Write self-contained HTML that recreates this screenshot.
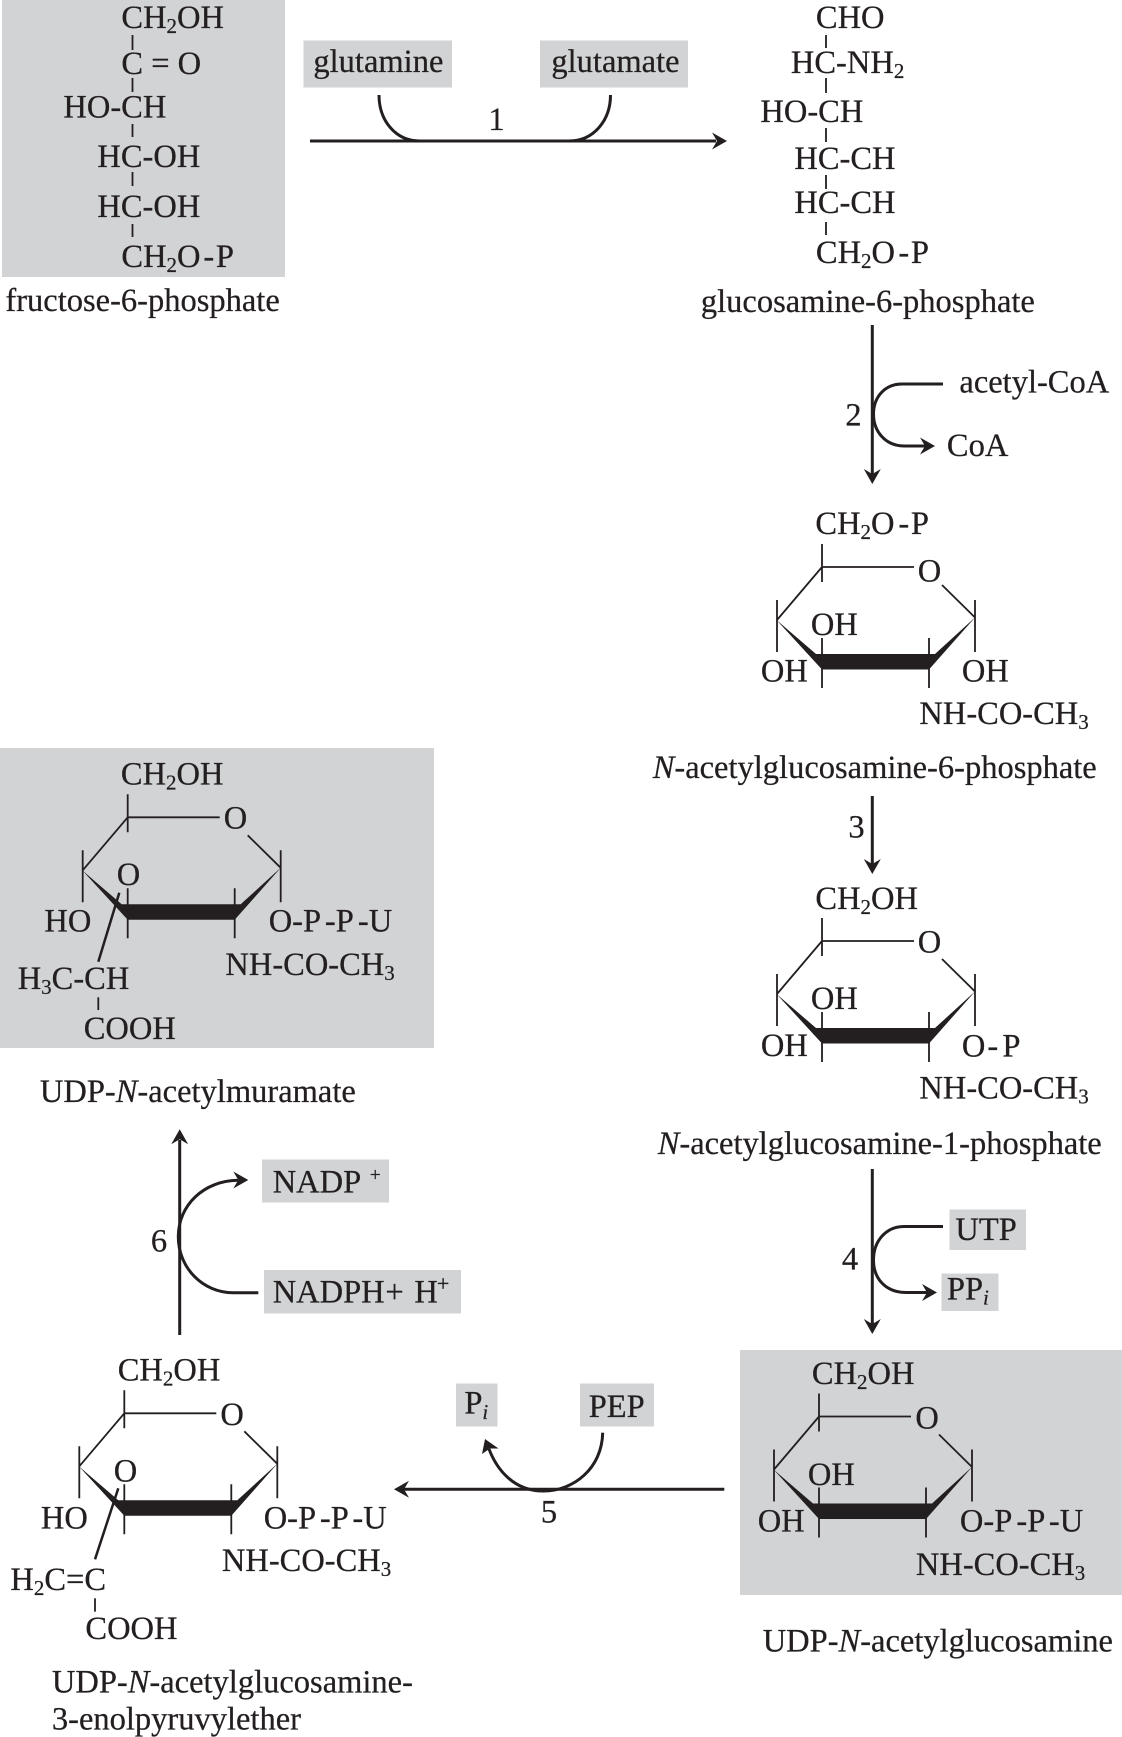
<!DOCTYPE html>
<html><head><meta charset="utf-8">
<style>
html,body{margin:0;padding:0;background:#fff}
svg{display:block}
text{font-family:"Liberation Serif",serif;font-size:32.5px;fill:#231f20;stroke:#231f20;stroke-width:.25;white-space:pre;transform:translateX(-0.6px)}
.s{font-size:21px}
.i{font-style:italic}
.b{fill:#d1d3d4}
.t{stroke:#231f20;stroke-width:1.8;fill:none}
.m{stroke:#231f20;stroke-width:3;fill:none}
.h{fill:#231f20}
</style></head>
<body>
<svg width="1122" height="1737" viewBox="0 0 1122 1737" xmlns="http://www.w3.org/2000/svg">
<defs>
<g id="ring">
<path class="t" d="M0 -23V15M0 0H92M0 0L-45 53M-45 33V85M120 18L153 50.5M153 33V85M0 71V121M107 71V121"/>
<path class="h" d="M-45.500 53L-6 87H113L153.500 50L107 102.500H0Z"/>
</g>
<path id="ah" class="h" d="M0 0L-15 -8.500L-10 0L-15 8.500Z"/>
</defs>
<rect width="1122" height="1737" fill="#fff"/>

<!-- gray boxes -->
<rect class="b" x="2" y="0" width="283" height="277"/>
<rect class="b" x="303.5" y="40.5" width="148.5" height="47"/>
<rect class="b" x="540" y="40.5" width="148" height="47"/>
<rect class="b" x="0" y="748" width="434" height="300"/>
<rect class="b" x="740" y="1350" width="382" height="245"/>
<rect class="b" x="949.5" y="1209.5" width="76.5" height="40.5"/>
<rect class="b" x="941.5" y="1273.5" width="57" height="37.5"/>
<rect class="b" x="456" y="1383.5" width="41.5" height="43"/>
<rect class="b" x="580" y="1383.5" width="74" height="43"/>
<rect class="b" x="262" y="1159.5" width="127" height="43"/>
<rect class="b" x="264" y="1270" width="197" height="43.5"/>

<!-- fructose-6-phosphate -->
<text x="122" y="28">CH<tspan class="s" dy="5">2</tspan><tspan dy="-5">OH</tspan></text>
<text x="122" y="74">C = O</text>
<text x="64" y="117.500">HO-CH</text>
<text x="98" y="167">HC-OH</text>
<text x="98" y="217">HC-OH</text>
<text x="122" y="267">CH<tspan class="s" dy="5">2</tspan><tspan dy="-5">O</tspan></text>
<text x="204" y="267">-</text><text x="216.500" y="267">P</text>
<path class="t" d="M132.5 35V50M132.5 78V92M132.5 124V137M132.5 172V186M132.5 224V237"/>
<text x="6" y="311">fructose-6-phosphate</text>

<!-- reaction 1 -->
<text x="314" y="72">glutamine</text>
<text x="552" y="72">glutamate</text>
<text x="489" y="130">1</text>
<path class="m" d="M310 141H716"/>
<use href="#ah" x="727" y="141"/>
<path class="m" d="M379 95C379 120 395 141 420 141H569C594 141 610.500 120 610.500 95"/>

<!-- glucosamine-6-phosphate -->
<text x="816.500" y="28">CHO</text>
<text x="791.500" y="73">HC-NH<tspan class="s" dy="5">2</tspan></text>
<text x="761" y="122">HO-CH</text>
<text x="795" y="169">HC-CH</text>
<text x="795" y="213">HC-CH</text>
<text x="816.500" y="263">CH<tspan class="s" dy="5">2</tspan><tspan dy="-5">O</tspan></text>
<text x="899" y="263">-</text><text x="911.500" y="263">P</text>
<path class="t" d="M826 35V48M826 78V93M826 128V142M826 175V189M826 222V235"/>
<text x="701.500" y="312">glucosamine-6-phosphate</text>

<!-- reaction 2 -->
<path class="m" d="M872.300 325V474"/>
<use href="#ah" transform="translate(872.300 484) rotate(90)"/>
<path class="m" d="M943 384H902C884 384 873.500 398 873.500 414C873.500 432 886 446 904 446H926"/>
<use href="#ah" x="935" y="446"/>
<text x="846" y="425.500">2</text>
<text x="960" y="392.500">acetyl-CoA</text>
<text x="947.500" y="456">CoA</text>

<!-- N-acetylglucosamine-6-phosphate -->
<use href="#ring" x="822" y="567"/>
<text x="816" y="534">CH<tspan class="s" dy="5">2</tspan><tspan dy="-5">O</tspan></text>
<text x="899" y="534">-</text><text x="911.500" y="534">P</text>
<text x="918.300" y="581.500">O</text>
<text x="811.500" y="635">OH</text>
<text x="761.500" y="681.500">OH</text>
<text x="962.500" y="681.500">OH</text>
<text x="920" y="724">NH-CO-CH<tspan class="s" dy="5">3</tspan></text>
<text x="653.300" y="778"><tspan class="i">N</tspan>-acetylglucosamine-6-phosphate</text>

<!-- reaction 3 -->
<path class="m" d="M872.300 796V864"/>
<use href="#ah" transform="translate(872.300 874) rotate(90)"/>
<text x="849" y="837.500">3</text>

<!-- N-acetylglucosamine-1-phosphate -->
<use href="#ring" x="822" y="941"/>
<text x="816" y="909">CH<tspan class="s" dy="5">2</tspan><tspan dy="-5">OH</tspan></text>
<text x="918.300" y="952.500">O</text>
<text x="811.500" y="1009">OH</text>
<text x="761.500" y="1056">OH</text>
<text x="962.500" y="1056.500">O</text>
<text x="988" y="1056.500">-</text><text x="1003" y="1056.500">P</text>
<text x="920" y="1098.500">NH-CO-CH<tspan class="s" dy="5">3</tspan></text>
<text x="658.300" y="1154"><tspan class="i">N</tspan>-acetylglucosamine-1-phosphate</text>

<!-- reaction 4 -->
<path class="m" d="M872.300 1169V1324"/>
<use href="#ah" transform="translate(872.300 1334) rotate(90)"/>
<path class="m" d="M943 1226.500H904C886 1226.500 873.500 1241 873.500 1260C873.500 1279 886 1292.500 906 1292.500H928"/>
<use href="#ah" x="937" y="1292.500"/>
<text x="842.500" y="1269.500">4</text>
<text x="956" y="1240">UTP</text>
<text x="947.500" y="1299.500">PP<tspan class="s i" dy="5">i</tspan></text>

<!-- UDP-N-acetylglucosamine -->
<use href="#ring" x="819" y="1416.500"/>
<text x="812.500" y="1384">CH<tspan class="s" dy="5">2</tspan><tspan dy="-5">OH</tspan></text>
<text x="916" y="1428.500">O</text>
<text x="808.500" y="1485">OH</text>
<text x="758.300" y="1531.500">OH</text>
<text x="960.500" y="1531.500">O-P</text><text x="1017" y="1531.500">-P</text><text x="1049.500" y="1531.500">-U</text>
<text x="916.500" y="1575">NH-CO-CH<tspan class="s" dy="5">3</tspan></text>
<text x="763.300" y="1651.500">UDP-<tspan class="i">N</tspan>-acetylglucosamine</text>

<!-- reaction 5 -->
<path class="m" d="M724.300 1489.300H404"/>
<use href="#ah" transform="translate(394 1489.300) rotate(180)"/>
<path class="m" d="M602.700 1432.700C602 1468 574 1491 543.500 1491C514 1491 497 1470 489 1449"/>
<path class="h" d="M485 1439L498.500 1448.500L490 1448.500L482 1454Z"/>
<text x="465" y="1413.500">P</text>
<text class="s i" x="483" y="1419">i</text>
<text x="589.300" y="1417">PEP</text>
<text x="541.500" y="1522.500">5</text>

<!-- UDP-N-acetylglucosamine-3-enolpyruvylether -->
<use href="#ring" x="124.300" y="1413.300"/>
<text x="118.300" y="1380.500">CH<tspan class="s" dy="5">2</tspan><tspan dy="-5">OH</tspan></text>
<text x="221" y="1425">O</text>
<text x="114.300" y="1481.500">O</text>
<text x="41.500" y="1528.300">HO</text>
<text x="264.300" y="1528.300">O-P</text><text x="320.500" y="1528.300">-P</text><text x="353" y="1528.300">-U</text>
<text x="222.500" y="1571">NH-CO-CH<tspan class="s" dy="5">3</tspan></text>
<text x="11" y="1590">H<tspan class="s" dy="5">2</tspan><tspan dy="-5">C=C</tspan></text>
<text x="86" y="1639">COOH</text>
<path class="t" d="M95 1598.300V1611.700"/>
<path class="t" style="stroke-width:2.500" d="M118.300 1488.300L95 1559.300"/>
<text x="52.500" y="1692.500">UDP-<tspan class="i">N</tspan>-acetylglucosamine-</text>
<text x="52.500" y="1729.300">3-enolpyruvylether</text>

<!-- reaction 6 -->
<path class="m" d="M179.700 1335V1140"/>
<use href="#ah" transform="translate(179.700 1129.300) rotate(-90)"/>
<path class="m" d="M258.300 1292.700H233C203 1292.700 178.300 1268 178.300 1236.700C178.300 1205 204 1180.700 238 1180.300"/>
<use href="#ah" x="248.300" y="1180"/>
<text x="151.500" y="1251.500">6</text>
<text x="273.300" y="1192.300">NADP</text>
<text class="s" style="font-size:19px" x="370.500" y="1181">+</text>
<text x="273.300" y="1302.500">NADPH</text>
<text x="386" y="1302.500">+</text>
<text x="415" y="1302.500">H</text>
<text class="s" style="font-size:22px" x="437.500" y="1291">+</text>

<!-- UDP-N-acetylmuramate -->
<use href="#ring" x="127.700" y="817.300"/>
<text x="121.500" y="784.300">CH<tspan class="s" dy="5">2</tspan><tspan dy="-5">OH</tspan></text>
<text x="224.300" y="828.300">O</text>
<text x="117.300" y="885">O</text>
<text x="45" y="931.500">HO</text>
<text x="269.300" y="931.500">O-P</text><text x="325.500" y="931.500">-P</text><text x="358.500" y="931.500">-U</text>
<text x="226" y="975">NH-CO-CH<tspan class="s" dy="5">3</tspan></text>
<text x="18.300" y="989">H<tspan class="s" dy="5">3</tspan><tspan dy="-5">C-CH</tspan></text>
<text x="84.300" y="1039">COOH</text>
<path class="t" d="M98.300 997.300V1010"/>
<path class="t" style="stroke-width:2.500" d="M119.300 892.700L98.300 961.700"/>
<text x="40.500" y="1102">UDP-<tspan class="i">N</tspan>-acetylmuramate</text>
</svg>
</body></html>
